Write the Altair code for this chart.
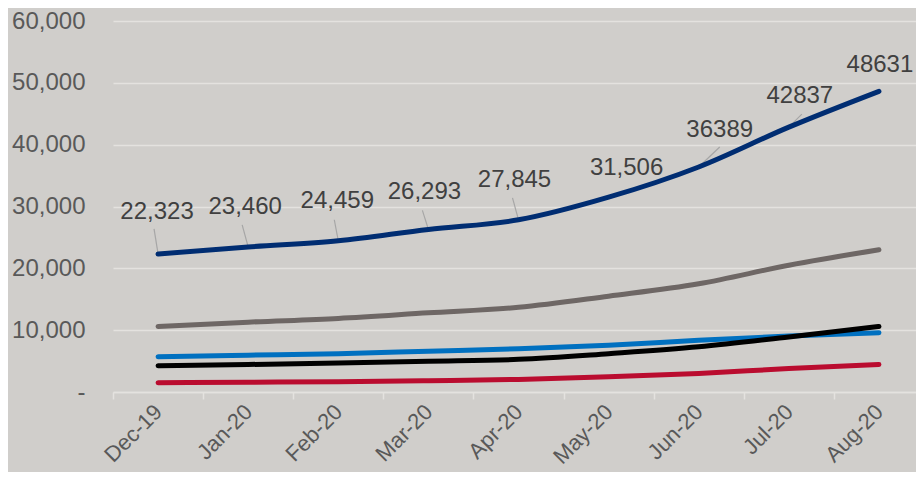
import altair as alt
import pandas as pd

months = ["Dec-19", "Jan-20", "Feb-20", "Mar-20", "Apr-20", "May-20", "Jun-20", "Jul-20", "Aug-20"]
series_names = ["Series 1", "Series 2", "Series 3", "Series 4", "Series 5"]
navy = [22323, 23460, 24459, 26293, 27845, 31506, 36389, 42837, 48631]
grey = [10600, 11300, 11900, 12800, 13700, 15500, 17500, 20500, 23000]
blue = [5700, 5950, 6200, 6600, 7000, 7550, 8350, 9050, 9600]
black = [4250, 4450, 4700, 4980, 5280, 6200, 7300, 8900, 10600]
red = [1500, 1580, 1660, 1830, 2040, 2450, 3000, 3800, 4450]
label_texts = ["22,323", "23,460", "24,459", "26,293", "27,845", "31,506", "36389", "42837", "48631"]
y_ticks = [0, 10000, 20000, 30000, 40000, 50000, 60000]

# styling (pixel offsets of the manually placed data labels and leader lines)
colors = ["#002D72", "#6E6765", "#0070C0", "#000000", "#BA0C2F"]
label_dx = [-1, -3, -1, -4, -4, 18, 21, 11, 1]
label_dy = [-42, -40, -40, -37, -40, -29, -37, -31, -26]
leader_dx = [-4, -6, -4, -6, -6, None, 21, 13, None]
leader_dy = [-25, -22, -21, -19, -22, None, -20, -13, None]

FONT = "Liberation Sans"

rows = []
for name, vals in zip(series_names, [navy, grey, blue, black, red]):
    for m, v in zip(months, vals):
        rows.append({"month": m, "series": name, "value": v})
df = pd.DataFrame(rows)

lab = pd.DataFrame({"month": months, "value": navy, "text": label_texts})

x_scale = alt.Scale(domain=months, paddingInner=0, paddingOuter=0, range=[0, 811])
x_enc = alt.X("month:N", sort=months, scale=x_scale,
              axis=alt.Axis(title=None, labelAngle=315, labelAlign="right", labelBaseline="middle",
                            labelPadding=9, labelFontSize=22, labelColor="#595959", labelFont=FONT,
                            tickBand="extent", ticks=True, tickSize=7, tickColor="#E4E2DF", tickWidth=1.5,
                            domainColor="#E4E2DF", domainWidth=1.5, grid=False))
y_enc = alt.Y("value:Q", scale=alt.Scale(domain=[0, 60000], nice=False),
              axis=alt.Axis(title=None, values=y_ticks, ticks=False, domain=False,
                            labelExpr="datum.value == 0 ? '-\u00a0\u00a0' : format(datum.value, ',')",
                            labelPadding=28, labelFontSize=24, labelColor="#595959", labelFont=FONT,
                            gridColor="#E4E2DF", gridWidth=1.5))

base = alt.Chart(df)
lines = base.mark_line(strokeWidth=5, strokeCap="round", strokeJoin="round", interpolate="monotone").encode(
    x=x_enc, y=y_enc,
    color=alt.Color("series:N", scale=alt.Scale(domain=series_names, range=colors), legend=None),
    order=alt.value(0),
)

layers = []
for i, m in enumerate(months):
    if leader_dx[i] is not None:
        layers.append(
            alt.Chart(lab).transform_filter(alt.datum.month == m).mark_rule(
                color="#A6A6A6", strokeWidth=1.2, x2Offset=leader_dx[i], y2Offset=leader_dy[i]
            ).encode(x=alt.X("month:N", sort=months), y="value:Q", x2="month:N", y2="value:Q")
        )
layers.append(lines)
for i, m in enumerate(months):
    layers.append(
        alt.Chart(lab).transform_filter(alt.datum.month == m).mark_text(
            font=FONT, fontSize=24, color="#404040", dx=label_dx[i], dy=label_dy[i],
            align="center", baseline="middle"
        ).encode(x=alt.X("month:N", sort=months), y="value:Q", text="text:N")
    )

chart = alt.layer(*layers).properties(
    width=803, height=371,
    autosize=alt.AutoSizeParams(type="none"),
    padding={"left": 105, "top": 13, "right": 0, "bottom": 80},
    background="#D0CECB",
).configure_view(stroke=None)

chart.save("out.html", embed_options={"renderer": "svg", "actions": False})
